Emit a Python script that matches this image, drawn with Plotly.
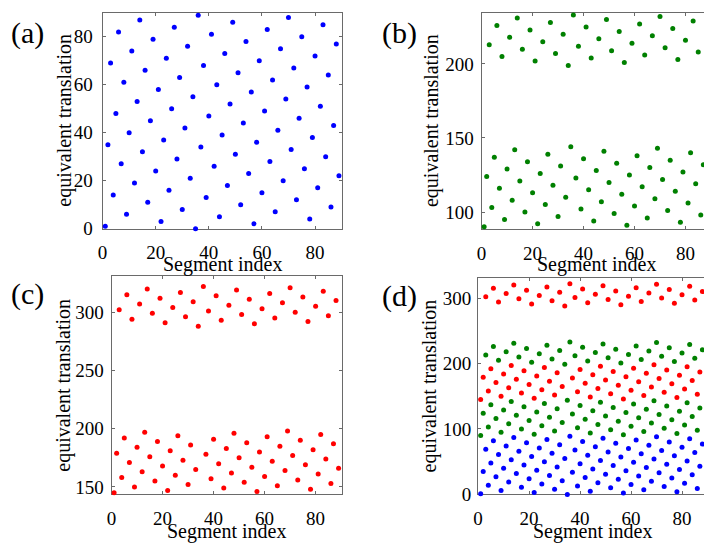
import plotly.graph_objects as go

W, H = 704, 550

# segment indices (1..89)
seg = list(range(1, 90))

# panel (a): equivalent translation, blue
trans_a = [1, 35, 69, 14, 48, 82, 27, 61, 6, 40, 74, 19, 53, 87, 32, 66, 11, 45, 79, 24,
           58, 3, 37, 71, 16, 50, 84, 29, 63, 8, 42, 76, 21, 55, 0, 89, 34, 68, 13, 47,
           81, 26, 60, 5, 39, 73, 18, 52, 86, 31, 65, 10, 44, 78, 23, 57, 2, 36, 70, 15,
           49, 83, 28, 62, 7, 41, 75, 20, 54, 88, 33, 67, 12, 46, 80, 25, 59, 4, 38, 72,
           17, 51, 85, 30, 64, 9, 43, 77, 22]

# panel (b): equivalent translation, green
trans_b = [90, 124, 213, 103, 137, 226, 116, 205, 95, 129, 218, 108, 142, 231, 121, 210, 100, 134, 223, 113,
           202, 92, 126, 215, 105, 139, 228, 118, 207, 97, 131, 220, 110, 199, 144, 233, 123, 212, 102, 136,
           225, 115, 204, 94, 128, 217, 107, 141, 230, 120, 209, 99, 133, 222, 112, 201, 91, 125, 214, 104,
           138, 227, 117, 206, 96, 130, 219, 109, 143, 232, 122, 211, 101, 135, 224, 114, 203, 93, 127, 216,
           106, 140, 229, 119, 208, 98, 132, 221, 111]

# panel (c): equivalent translation, red (no point at segment 35)
seg_c = [s for s in seg if s != 35]
trans_c = [145, 179, 302, 158, 192, 315, 171, 294, 150, 184, 307, 163, 197, 320, 176, 299, 155, 189, 312, 168,
           291, 147, 181, 304, 160, 194, 317, 173, 296, 152, 186, 309, 165, 288, 322, 178, 301, 157, 191,
           314, 170, 293, 149, 183, 306, 162, 196, 319, 175, 298, 154, 188, 311, 167, 290, 146, 180, 303, 159,
           193, 316, 172, 295, 151, 185, 308, 164, 198, 321, 177, 300, 156, 190, 313, 169, 292, 148, 182, 305,
           161, 195, 318, 174, 297, 153, 187, 310, 166]

BLUE, GREEN, RED = "#0000FF", "#008000", "#FF0000"
FONT = "Liberation Serif"
LINE = "#6a6a6a"


def px_x(p):
    return p / W


def px_y(p):
    return 1 - p / H


fig = go.Figure()


def dots(x, y, color, n):
    fig.add_trace(go.Scatter(
        x=x, y=y, mode="markers", xaxis=f"x{n}", yaxis=f"y{n}",
        marker=dict(color=color, size=5, line=dict(width=0)),
        cliponaxis=False, showlegend=False, hoverinfo="skip"))


dots(seg, trans_a, BLUE, 1)
dots(seg, trans_b, GREEN, 2)
dots(seg_c, trans_c, RED, 3)
dots(seg, trans_a, BLUE, 4)
dots(seg, trans_b, GREEN, 4)
dots(seg_c, trans_c, RED, 4)


def xax(dom, rng, anchor):
    return dict(domain=dom, range=rng, anchor=anchor, tickvals=[0, 20, 40, 60, 80],
                ticks="inside", ticklen=3, tickcolor=LINE, showline=True, linecolor=LINE,
                linewidth=1, mirror="ticks", showgrid=False, zeroline=False,
                tickfont=dict(family=FONT, size=19, color="black"), layer="below traces",
                ticklabelstandoff=7)


def yax(dom, rng, anchor, ticks, mirror, standoff):
    return dict(domain=dom, range=rng, anchor=anchor, tickvals=ticks,
                ticks="inside", ticklen=3, tickcolor=LINE, showline=True, linecolor=LINE,
                linewidth=1, mirror=mirror, showgrid=False, zeroline=False,
                tickfont=dict(family=FONT, size=19, color="black"), layer="below traces",
                ticklabelstandoff=standoff)


layout = dict(
    width=W, height=H, autosize=False,
    margin=dict(l=0, r=0, t=0, b=0, pad=0),
    paper_bgcolor="white", plot_bgcolor="white",
    xaxis=xax([px_x(98.3), px_x(339.0)], [0, 90], "y"),
    yaxis=yax([px_y(233.3), px_y(13.0)], [0, 90], "x", [0, 20, 40, 60, 80], "ticks", 5),
    xaxis2=xax([px_x(480.0), 1.0], [0, 224 / 2.567], "y2"),
    yaxis2=yax([px_y(233.7), px_y(13.0)], [88.5, 234.6], "x2", [100, 150, 200], False, 3),
    xaxis3=xax([px_x(107.3), px_x(339.3)], [0, 90.3], "y3"),
    yaxis3=yax([px_y(504.0), px_y(281.7)], [144, 331], "x3", [150, 200, 250, 300], "ticks", 3),
    xaxis4=xax([px_x(476.5), 1.0], [0, 227.5 / 2.567], "y4"),
    yaxis4=yax([px_y(504.5), px_y(283.5)], [0, 331], "x4", [0, 100, 200, 300], False, 2),
)
fig.update_layout(**layout)


def label(text, x, y, size, angle=0):
    fig.add_annotation(text=text, x=px_x(x), y=px_y(y), xref="paper", yref="paper",
                       xanchor="center", yanchor="middle", showarrow=False, textangle=angle,
                       font=dict(family=FONT, size=size, color="black"))


# panel letters
label("(a)", 23, 34, 30)
label("(b)", 397.5, 34, 30)
label("(c)", 23, 299.5, 30)
label("(d)", 397.5, 302, 30)

# axis titles
label("Segment index", 218.7, 270, 20)
label("Segment index", 595.5, 270, 20)
label("Segment index", 223.3, 542, 20)
label("Segment index", 592, 542, 20)
label("equivalent translation", 59, 122.5, 20, -90)
label("equivalent translation", 429, 122.5, 20, -90)
label("equivalent translation", 59, 393, 20, -90)
label("equivalent translation", 427, 393.3, 20, -90)

fig.write_html("out.html")
